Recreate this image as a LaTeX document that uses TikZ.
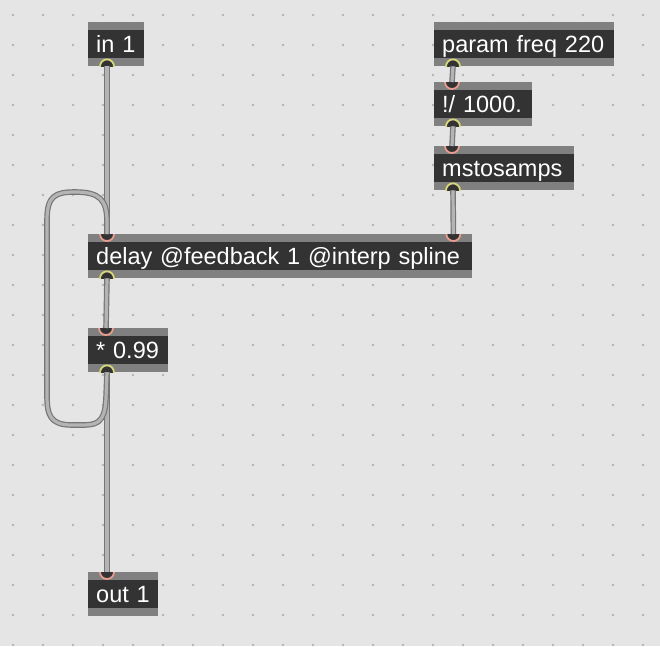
\documentclass[tikz,border=0pt]{standalone}
\usepackage{fontspec}
\setmainfont{Liberation Sans}
\usetikzlibrary{calc}
\definecolor{bg}{HTML}{E5E5E5}
\definecolor{dotc}{HTML}{B4B4B4}
\definecolor{bandgray}{HTML}{808080}
\definecolor{boxdark}{HTML}{333333}
\definecolor{cabout}{HTML}{767676}
\definecolor{cabin}{HTML}{B4B4B4}
\definecolor{inc}{HTML}{E89C8E}
\definecolor{outc}{HTML}{D6D67A}
\tikzset{
  maxbox/.style={rectangle, anchor=north west, inner xsep=8pt, inner ysep=0pt,
    minimum height=44pt, fill=bandgray, text=white,
    font=\fontsize{23.5}{28}\selectfont, text height=19pt, text depth=3pt, align=left,
    path picture={\fill[boxdark] ([yshift=-8pt]path picture bounding box.north west) rectangle ([yshift=8pt]path picture bounding box.south east);}},
  cable/.style={draw=cabout, line width=1.2pt, double=cabin, double distance=3.2pt},
}
\newcommand\outport[1]{\begin{scope}\clip ($(#1)+(-10,-10)$) rectangle ($(#1)+(10,0)$);
  \filldraw[fill=boxdark, draw=outc, line width=1.8pt] (#1) circle (7);\end{scope}}
\newcommand\inport[1]{\begin{scope}\clip ($(#1)+(-10,10)$) rectangle ($(#1)+(10,0)$);
  \filldraw[fill=boxdark, draw=inc, line width=1.8pt] (#1) circle (7);\end{scope}}
\begin{document}
\begin{tikzpicture}[x=1pt,y=-1pt]
\useasboundingbox (0,0) rectangle (660,646);
\fill[bg] (0,0) rectangle (660,646);
\foreach \i in {0,...,21} \foreach \j in {0,...,21} \fill[dotc] (13+30*\i,15+30*\j) circle (1.3);

\node[maxbox, text width=40pt] (in1) at (88,22) {\mbox{in 1}};
\node[maxbox, text width=164pt] (param) at (434,22) {\mbox{param freq 220}};
\node[maxbox, text width=82pt] (div) at (434,82) {\mbox{!/ 1000.}};
\node[maxbox, text width=124pt] (ms) at (434,146) {\mbox{mstosamps}};
\node[maxbox, text width=368pt] (delay) at (88,234) {\mbox{delay @feedback 1 @interp spline}};
\node[maxbox, text width=64pt] (mul) at (88,328) {\mbox{* 0.99}};
\node[maxbox, text width=54pt] (out) at (88,572) {\mbox{out 1}};

\coordinate (in1o) at ($(in1.south west)+(19,0)$);
\coordinate (paramo) at ($(param.south west)+(19,0)$);
\coordinate (divi) at ($(div.north west)+(18,0)$);
\coordinate (divo) at ($(div.south west)+(19,0)$);
\coordinate (msi) at ($(ms.north west)+(18,0)$);
\coordinate (mso) at ($(ms.south west)+(19,0)$);
\coordinate (delli) at ($(delay.north west)+(19,0)$);
\coordinate (delri) at ($(delay.north east)+(-19,0)$);
\coordinate (delo) at ($(delay.south west)+(19,0)$);
\coordinate (muli) at ($(mul.north west)+(18,0)$);
\coordinate (mulo) at ($(mul.south west)+(19,0)$);
\coordinate (outi) at ($(out.north west)+(19,0)$);

\foreach \p in {in1o,paramo,divo,mso,delo,mulo} \outport{\p};
\foreach \p in {divi,msi,delli,delri,muli,outi} \inport{\p};

\draw[cable] (in1o) -- (delli);
\draw[cable] (paramo) -- (divi);
\draw[cable] (divo) -- (msi);
\draw[cable] (mso) -- (delri);
\draw[cable] (delo) -- (muli);
\draw[cable] (mulo) -- (outi);
\draw[cable] (mulo) -- (106,398) .. controls (105,425) and (95,425) .. (80,425) -- (72,425)
  .. controls (50,425) and (47,415) .. (47,395) -- (47,220)
  .. controls (47,196) and (55,192) .. (75,192) .. controls (100,192) and (107,200) .. (107,222) -- (delli);
\end{tikzpicture}
\end{document}
